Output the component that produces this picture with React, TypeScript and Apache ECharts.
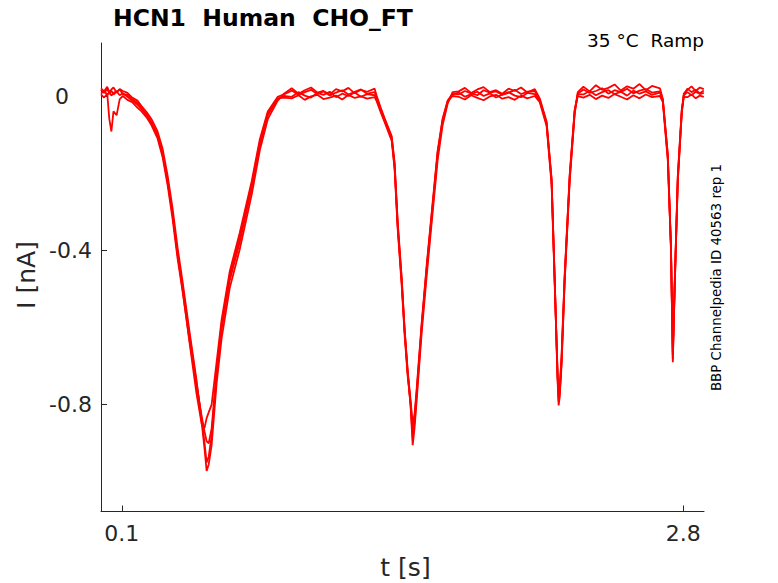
import React, { useEffect, useRef } from "react";
import * as echarts from "echarts";

// time points [s] shared by all sweeps
const T = [
  0.000, 0.015, 0.030, 0.040, 0.050, 0.060, 0.075, 0.090, 0.105, 0.127,
  0.150, 0.175, 0.195, 0.220, 0.243, 0.272, 0.296, 0.320, 0.344, 0.368, 0.392, 0.426, 0.459, 0.484, 0.498, 0.508, 0.518, 0.532, 0.556, 0.580, 0.619, 0.667, 0.725, 0.764, 0.802, 0.850, 0.880,
  0.917, 0.95, 0.98, 1.01, 1.04, 1.07, 1.10, 1.13, 1.16, 1.19, 1.22, 1.25, 1.28, 1.316,
  1.326, 1.345, 1.364, 1.398, 1.412, 1.427, 1.446, 1.460, 1.475, 1.489, 1.499, 1.508, 1.518, 1.542, 1.566, 1.590, 1.619, 1.643, 1.667, 1.691,
  1.72, 1.75, 1.78, 1.81, 1.84, 1.87, 1.90, 1.93, 1.96, 1.99, 2.02, 2.05, 2.086,
  2.110, 2.143, 2.167, 2.182, 2.196, 2.201, 2.206, 2.215, 2.230, 2.254, 2.278, 2.293,
  2.32, 2.35, 2.38, 2.41, 2.44, 2.47, 2.50, 2.53, 2.56, 2.59, 2.62, 2.65, 2.688,
  2.702, 2.726, 2.741, 2.750, 2.760, 2.774, 2.793, 2.803,
  2.82, 2.84, 2.86, 2.88, 2.899,
];

// current [nA] of each sweep
const sweepA = [
  0.020, 0.012, 0.024, 0.010, 0.017, 0.022, 0.009, 0.018, 0.013, 0.008,
  -0.004, -0.012, -0.026, -0.042, -0.060, -0.092, -0.136, -0.205, -0.290, -0.392, -0.480, -0.612, -0.735, -0.845, -0.915, -0.972, -0.955, -0.905, -0.745, -0.628, -0.498, -0.398, -0.255, -0.140, -0.060, -0.012, 0.006,
  0.020, 0.006, 0.015, 0.022, 0.009, 0.013, 0.004, 0.018, 0.012, 0.021, 0.007, 0.016, 0.011, 0.019,
  0.000, -0.030, -0.058, -0.104, -0.172, -0.326, -0.470, -0.602, -0.716, -0.805, -0.905, -0.860, -0.790, -0.615, -0.468, -0.330, -0.166, -0.075, -0.020, 0.010,
  0.012, 0.021, 0.008, 0.017, 0.023, 0.010, 0.015, 0.006, 0.019, 0.013, 0.022, 0.009, 0.018,
  -0.006, -0.066, -0.214, -0.475, -0.740, -0.802, -0.780, -0.698, -0.482, -0.222, -0.046, 0.010,
  0.024, 0.012, 0.028, 0.016, 0.021, 0.030, 0.014, 0.025, 0.019, 0.031, 0.015, 0.026, 0.020,
  -0.008, -0.155, -0.392, -0.690, -0.480, -0.222, -0.046, 0.006,
  0.016, 0.025, 0.013, 0.022, 0.018,
];

const sweepB = [
  0.006, 0.014, 0.003, 0.009, 0.001, 0.008, 0.012, 0.002, 0.007, -0.002,
  -0.012, -0.022, -0.034, -0.050, -0.068, -0.104, -0.150, -0.222, -0.306, -0.408, -0.492, -0.622, -0.742, -0.835, -0.900, -0.950, -0.935, -0.880, -0.722, -0.605, -0.478, -0.380, -0.238, -0.128, -0.050, -0.008, 0.000,
  -0.002, 0.010, 0.001, -0.004, 0.008, 0.003, 0.011, -0.003, 0.006, 0.000, 0.009, -0.002, 0.005, 0.002,
  -0.008, -0.038, -0.064, -0.112, -0.184, -0.340, -0.482, -0.610, -0.720, -0.800, -0.888, -0.845, -0.776, -0.602, -0.452, -0.316, -0.152, -0.066, -0.016, 0.004,
  0.009, -0.002, 0.005, 0.011, 0.000, 0.007, -0.004, 0.004, 0.010, 0.001, -0.003, 0.008, 0.005,
  -0.012, -0.072, -0.222, -0.480, -0.732, -0.792, -0.772, -0.688, -0.474, -0.214, -0.042, 0.004,
  0.004, 0.013, 0.002, 0.010, 0.015, 0.005, 0.011, 0.001, 0.014, 0.006, 0.012, 0.003, 0.009,
  -0.012, -0.162, -0.390, -0.682, -0.476, -0.216, -0.042, 0.002,
  0.010, 0.002, 0.011, 0.005, 0.008,
];

const sweepC = [
  0.004, -0.004, 0.006, -0.060, -0.092, -0.040, -0.050, -0.008, 0.000, -0.010,
  -0.016, -0.030, -0.040, -0.056, -0.076, -0.110, -0.158, -0.230, -0.318, -0.420, -0.505, -0.635, -0.748, -0.830, -0.870, -0.895, -0.900, -0.862, -0.710, -0.592, -0.466, -0.368, -0.228, -0.120, -0.045, -0.006, -0.004,
  -0.006, 0.002, -0.010, -0.001, 0.003, -0.008, -0.004, 0.001, -0.009, 0.003, -0.005, -0.001, -0.007, -0.003,
  -0.014, -0.042, -0.068, -0.116, -0.190, -0.346, -0.490, -0.618, -0.726, -0.796, -0.868, -0.835, -0.768, -0.596, -0.446, -0.310, -0.146, -0.062, -0.014, 0.000,
  -0.002, -0.009, 0.002, -0.005, -0.011, -0.001, 0.003, -0.007, -0.003, -0.010, 0.001, -0.006, 0.000,
  -0.016, -0.078, -0.230, -0.488, -0.726, -0.782, -0.766, -0.680, -0.468, -0.208, -0.038, 0.000,
  -0.004, 0.003, -0.008, 0.001, -0.005, 0.005, -0.002, -0.009, 0.002, -0.006, 0.004, -0.003, 0.000,
  -0.016, -0.168, -0.396, -0.672, -0.470, -0.210, -0.038, -0.002,
  -0.003, 0.004, -0.006, 0.001, -0.002,
];

const sweepD = [
  0.016, 0.008, 0.019, 0.006, 0.014, 0.004, 0.011, 0.017, 0.005, 0.003,
  -0.008, -0.018, -0.030, -0.048, -0.070, -0.100, -0.146, -0.218, -0.304, -0.410, -0.500, -0.640, -0.770, -0.850, -0.860, -0.835, -0.820, -0.800, -0.690, -0.580, -0.455, -0.355, -0.220, -0.112, -0.040, -0.002, 0.004,
  0.014, 0.003, 0.010, 0.016, 0.005, 0.012, 0.001, 0.009, 0.015, 0.004, 0.011, 0.017, 0.006, 0.010,
  -0.004, -0.034, -0.060, -0.108, -0.178, -0.334, -0.476, -0.606, -0.712, -0.790, -0.850, -0.825, -0.760, -0.590, -0.440, -0.304, -0.142, -0.058, -0.012, 0.006,
  0.004, 0.013, 0.007, 0.002, 0.015, 0.009, 0.012, 0.003, 0.008, 0.016, 0.005, 0.011, 0.013,
  -0.010, -0.070, -0.218, -0.478, -0.720, -0.772, -0.758, -0.674, -0.462, -0.204, -0.036, 0.006,
  0.017, 0.008, 0.013, 0.020, 0.006, 0.015, 0.010, 0.019, 0.007, 0.014, 0.018, 0.009, 0.012,
  -0.010, -0.150, -0.384, -0.662, -0.466, -0.206, -0.036, 0.004,
  0.019, 0.010, 0.016, 0.007, 0.014,
];

const sweeps = [sweepA, sweepB, sweepC, sweepD];

const xTicks = [0.1, 2.8];
const yTicks = [0, -0.4, -0.8];

const TITLE = "HCN1  Human  CHO_FT";
const SUBTITLE = "35 °C  Ramp";
const SIDE_NOTE = "BBP Channelpedia ID 40563 rep 1";
const X_NAME = "t [s]";
const Y_NAME = "I [nA]";

const FONT = "DejaVu Sans";
const AXIS_COLOR = "#262626";

export default function App() {
  const ref = useRef<HTMLDivElement>(null);

  useEffect(() => {
    if (!ref.current) return;
    const chart = echarts.init(ref.current, null, { renderer: "svg" });

    const fmtY = (v: number) => {
      const s = v === 0 ? "0" : String(v);
      return v === 0 ? "{z|" + s + "}" : "{n|" + s + "}";
    };

    chart.setOption({
      animation: false,
      backgroundColor: "#ffffff",
      grid: { left: 101, right: 74, top: 43, bottom: 71.5, containLabel: false },
      xAxis: {
        type: "value",
        min: 0,
        max: 2.9,
        axisLine: { show: true, onZero: false, lineStyle: { color: AXIS_COLOR, width: 1 } },
        axisTick: { show: true, inside: true, length: 6, customValues: xTicks, lineStyle: { color: AXIS_COLOR } },
        axisLabel: {
          show: true,
          customValues: xTicks,
          margin: 11,
          color: AXIS_COLOR,
          fontFamily: FONT,
          fontSize: 22,
          formatter: (v: number) => String(v),
        },
        splitLine: { show: false },
      },
      yAxis: {
        type: "value",
        min: -1.077,
        max: 0.1374,
        axisLine: { show: true, onZero: false, lineStyle: { color: AXIS_COLOR, width: 1 } },
        axisTick: { show: true, inside: true, length: 6, customValues: yTicks, lineStyle: { color: AXIS_COLOR } },
        axisLabel: {
          show: true,
          customValues: yTicks,
          margin: 9,
          color: AXIS_COLOR,
          fontFamily: FONT,
          fontSize: 22,
          formatter: fmtY,
          rich: {
            z: { fontFamily: FONT, fontSize: 22, color: AXIS_COLOR, padding: [0, 23, 0, 0] },
            n: { fontFamily: FONT, fontSize: 22, color: AXIS_COLOR },
          },
        },
        splitLine: { show: false },
      },
      series: sweeps.map((s, k) => ({
        type: "line",
        name: "sweep " + (k + 1),
        data: T.map((t, i) => [t, s[i]]),
        showSymbol: false,
        symbol: "none",
        smooth: false,
        lineStyle: { color: "#ff0000", width: 1.8 },
        itemStyle: { color: "#ff0000" },
        emphasis: { disabled: true },
        z: 2,
      })),
      graphic: [
        {
          type: "text",
          x: 113,
          y: 18,
          style: {
            text: TITLE,
            fill: "#000000",
            fontFamily: FONT,
            fontSize: 23.5,
            fontWeight: "bold",
            textAlign: "left",
            textVerticalAlign: "middle",
          },
        },
        {
          type: "text",
          x: 704,
          y: 40.5,
          style: {
            text: SUBTITLE,
            fill: "#000000",
            fontFamily: FONT,
            fontSize: 18.5,
            textAlign: "right",
            textVerticalAlign: "middle",
          },
        },
        {
          type: "text",
          x: 716,
          y: 277.5,
          rotation: Math.PI / 2,
          style: {
            text: SIDE_NOTE,
            fill: "#000000",
            fontFamily: FONT,
            fontSize: 13.4,
            textAlign: "center",
            textVerticalAlign: "middle",
          },
        },
        {
          type: "text",
          x: 26.5,
          y: 275,
          rotation: Math.PI / 2,
          style: {
            text: Y_NAME,
            fill: AXIS_COLOR,
            fontFamily: FONT,
            fontSize: 25,
            textAlign: "center",
            textVerticalAlign: "middle",
          },
        },
        {
          type: "text",
          x: 405.5,
          y: 567.5,
          style: {
            text: X_NAME,
            fill: AXIS_COLOR,
            fontFamily: FONT,
            fontSize: 25,
            textAlign: "center",
            textVerticalAlign: "middle",
          },
        },
      ],
    });

    return () => {
      chart.dispose();
    };
  }, []);

  return (
    <div
      ref={ref}
      style={{ position: "absolute", left: 0, top: 0, width: 778, height: 583, background: "#ffffff" }}
    />
  );
}
